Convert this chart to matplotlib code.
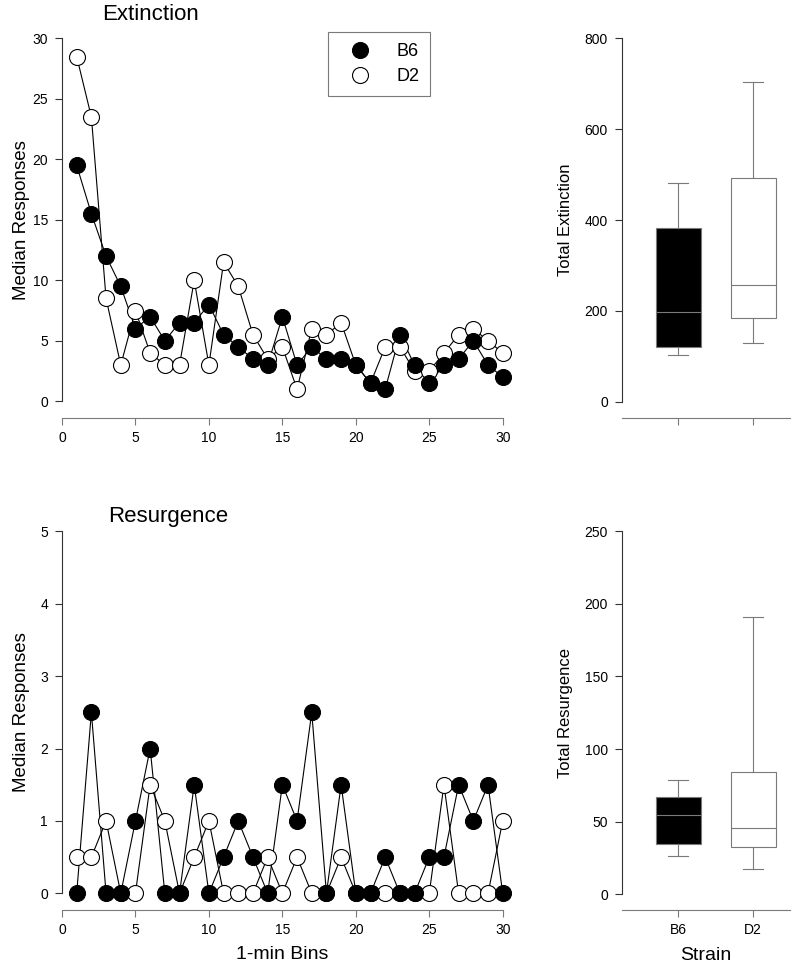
import matplotlib
matplotlib.use('Agg')
import matplotlib.pyplot as plt
from matplotlib.lines import Line2D

plt.rcParams['font.family'] = ['Liberation Sans', 'DejaVu Sans']

# ---------------- data ----------------
bins = list(range(1, 31))
ext_b6 = [19.5, 15.5, 12, 9.5, 6, 7, 5, 6.5, 6.5, 8, 5.5, 4.5, 3.5, 3, 7,
          3, 4.5, 3.5, 3.5, 3, 1.5, 1, 5.5, 3, 1.5, 3, 3.5, 5, 3, 2]
ext_d2 = [28.5, 23.5, 8.5, 3, 7.5, 4, 3, 3, 10, 3, 11.5, 9.5, 5.5, 3.5, 4.5,
          1, 6, 5.5, 6.5, 3, 1.5, 4.5, 4.5, 2.5, 2.5, 4, 5.5, 6, 5, 4]
res_b6 = [0, 2.5, 0, 0, 1, 2, 0, 0, 1.5, 0, 0.5, 1, 0.5, 0, 1.5,
          1, 2.5, 0, 1.5, 0, 0, 0.5, 0, 0, 0.5, 0.5, 1.5, 1, 1.5, 0]
res_d2 = [0.5, 0.5, 1, 0, 0, 1.5, 1, 0, 0.5, 1, 0, 0, 0, 0.5, 0,
          0.5, 0, 0, 0.5, 0, 0, 0, 0, 0, 0, 1.5, 0, 0, 0, 1]

strains = ['B6', 'D2']
ext_tot_whislo = [103, 130]
ext_tot_q1 = [121, 184]
ext_tot_med = [197, 258]
ext_tot_q3 = [382, 492]
ext_tot_whishi = [482, 704]

res_tot_whislo = [26.6, 17.4]
res_tot_q1 = [34.6, 32.3]
res_tot_med = [54.6, 45.8]
res_tot_q3 = [66.7, 84.4]
res_tot_whishi = [79, 191]

box_fill = ['black', 'white']

# ---------------- figure ----------------
fig = plt.figure(figsize=(8, 9.76), dpi=100)

ax1 = fig.add_axes([0.0775, 0.5888, 0.5509, 0.3719])
ax3 = fig.add_axes([0.0775, 0.0847, 0.5509, 0.3709])
ax2 = fig.add_axes([0.7771, 0.5884, 0.2104, 0.3723])
ax4 = fig.add_axes([0.7771, 0.0837, 0.2104, 0.3722])

GRAY = '#7a7a7a'
SPINE = '#333333'


def line_panel(ax, b6, d2, ymax, yticks, title, title_xy):
    ax.plot(bins, d2, color='black', lw=0.8, zorder=2, clip_on=False)
    ax.plot(bins, b6, color='black', lw=0.8, zorder=2, clip_on=False)
    ax.plot(bins, d2, ls='none', marker='o', ms=11.5, mfc='white',
            mec='black', mew=0.8, zorder=3, clip_on=False)
    ax.plot(bins, b6, ls='none', marker='o', ms=11.5, mfc='black',
            mec='black', mew=0.8, zorder=4, clip_on=False)
    ax.set_xlim(0, 30)
    ax.set_ylim(0, ymax)
    ax.set_xticks(range(0, 31, 5))
    ax.set_yticks(yticks)
    for s in ['top', 'right']:
        ax.spines[s].set_visible(False)
    ax.spines['left'].set_bounds(0, ymax)
    ax.spines['left'].set_color(SPINE)
    ax.spines['bottom'].set_position(('outward', 12.3))
    ax.spines['bottom'].set_bounds(0, 30)
    ax.spines['bottom'].set_color(GRAY)
    ax.tick_params(axis='y', direction='out', length=5, width=0.8,
                   colors=SPINE, labelcolor='black', labelsize=10, pad=5)
    ax.tick_params(axis='x', direction='out', length=5, width=0.8,
                   colors=GRAY, labelcolor='black', labelsize=10, pad=4)
    ax.set_ylabel('Median Responses', fontsize=13.5)
    ax.yaxis.set_label_coords(-0.073, 0.5)
    ax.text(title_xy[0], title_xy[1], title, transform=ax.transAxes,
            ha='center', va='center', fontsize=16)


line_panel(ax1, ext_b6, ext_d2, 30, range(0, 31, 5), 'Extinction', (0.2, 1.067))
line_panel(ax3, res_b6, res_d2, 5, range(0, 6, 1), 'Resurgence', (0.2405, 1.042))
ax3.set_xlabel('1-min Bins', fontsize=14)
ax3.xaxis.set_label_coords(0.5, -0.145)

handles = [Line2D([], [], ls='none', marker='o', ms=11.5, mfc='black', mec='black', mew=0.8),
           Line2D([], [], ls='none', marker='o', ms=11.5, mfc='white', mec='black', mew=0.8)]
leg = ax1.legend(handles, strains, loc='upper left', bbox_to_anchor=(0.6036, 1.0165),
                 borderaxespad=0, fontsize=13, frameon=True, fancybox=False,
                 edgecolor=GRAY, framealpha=1, borderpad=0.6, labelspacing=0.45,
                 handlelength=2.3, handletextpad=0.9)
leg.get_frame().set_linewidth(0.8)


def box_panel(ax, lo, q1, med, q3, hi, ymax, yticks, ylabel):
    stats = []
    for i in range(len(strains)):
        stats.append(dict(whislo=lo[i], q1=q1[i], med=med[i], q3=q3[i],
                          whishi=hi[i], label=strains[i]))
    bp = ax.bxp(stats, positions=[1, 2], widths=0.6, capwidths=0.26,
                showfliers=False, patch_artist=True,
                boxprops=dict(edgecolor=GRAY, linewidth=0.8),
                whiskerprops=dict(color=GRAY, linewidth=0.8),
                capprops=dict(color=GRAY, linewidth=0.8),
                medianprops=dict(color=GRAY, linewidth=0.8))
    for patch, c in zip(bp['boxes'], box_fill):
        patch.set_facecolor(c)
    ax.set_xlim(0.249, 2.493)
    ax.set_ylim(0, ymax)
    ax.set_yticks(yticks)
    for s in ['top', 'right']:
        ax.spines[s].set_visible(False)
    ax.spines['left'].set_bounds(0, ymax)
    ax.spines['left'].set_color(SPINE)
    ax.spines['bottom'].set_position(('outward', 11.5))
    ax.spines['bottom'].set_color(GRAY)
    ax.tick_params(axis='y', direction='out', length=5, width=0.8,
                   colors=SPINE, labelcolor='black', labelsize=10, pad=5)
    ax.tick_params(axis='x', direction='out', length=5, width=0.8,
                   colors=GRAY, labelcolor='black', labelsize=10, pad=4)
    ax.set_ylabel(ylabel, fontsize=12)
    ax.yaxis.set_label_coords(-0.29, 0.5)


box_panel(ax2, ext_tot_whislo, ext_tot_q1, ext_tot_med, ext_tot_q3, ext_tot_whishi,
          800, range(0, 801, 200), 'Total Extinction')
box_panel(ax4, res_tot_whislo, res_tot_q1, res_tot_med, res_tot_q3, res_tot_whishi,
          250, range(0, 251, 50), 'Total Resurgence')
ax2.set_xticklabels([])
ax4.set_xlabel('Strain', fontsize=14)
ax4.xaxis.set_label_coords(0.5, -0.145)

fig.savefig('out.png', dpi=100)
